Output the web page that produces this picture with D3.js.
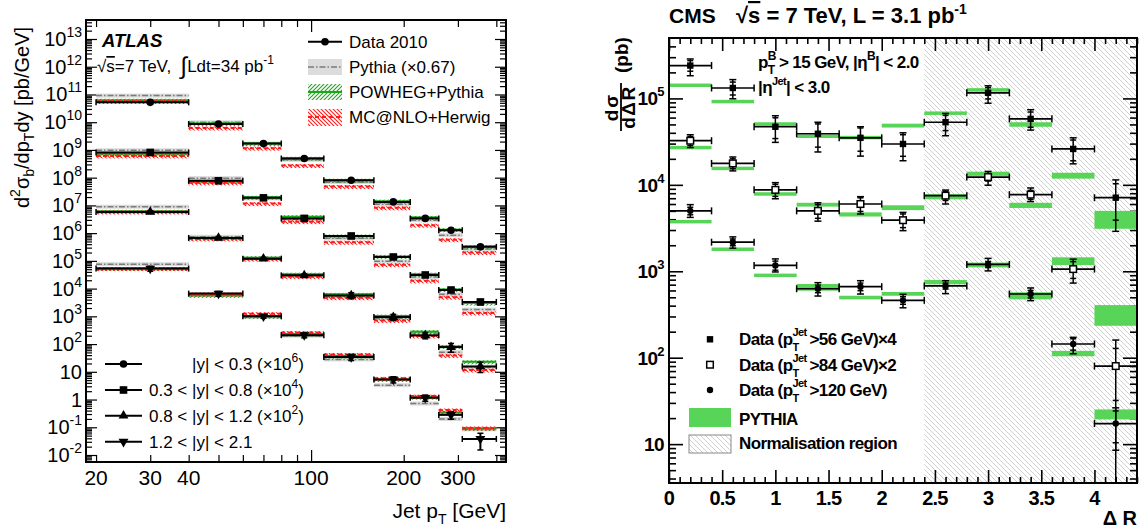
<!DOCTYPE html>
<html><head><meta charset="utf-8">
<script src="https://cdn.jsdelivr.net/npm/d3@7"></script>
<style>body{margin:0;background:#fff} svg{display:block} text{white-space:pre}</style>
</head><body>
<svg id="c" width="1141" height="531"></svg>
<script>
// ---------------- LEFT PANEL DATA (ATLAS b-jet cross section) ----------------
const ptEdges = [20, 40, 60, 80, 110, 160, 210, 260, 310, 400];
const ptMean  = [30, 50, 70, 95, 135, 185, 235, 285, 355];
const leftYTicks = [1e-2,1e-1,1,10,1e2,1e3,1e4,1e5,1e6,1e7,1e8,1e9,1e10,1e11,1e12,1e13];
const leftXLabels = [20, 30, 40, 100, 200, 300];

const dataY03 = [5.2e10, 8.6e9, 1.7e9, 4.9e8, 8.1e7, 1.34e7, 3.4e6, 1.27e6, 3.2e5];
const dataY08 = [8.1e8, 7.7e7, 1.87e7, 3.4e6, 7.9e5, 1.38e5, 3.1e4, 8.9e3, 3.3e3];
const dataY12 = [5.8e6, 6.7e5, 1.2e5, 3.0e4, 5.7e3, 940, 206, 78, 15.7];
const dataY21 = [5.3e4, 6.6e3, 1.0e3, 210, 34, 5.3, 1.16, 0.28, 0.038];

const errY03 = [0.12, 0.1, 0.1, 0.1, 0.12, 0.12, 0.12, 0.15, 0.18];
const errY08 = [0.12, 0.1, 0.1, 0.1, 0.12, 0.12, 0.15, 0.18, 0.2];
const errY12 = [0.12, 0.12, 0.12, 0.12, 0.25, 0.25, 0.25, 0.35, 0.4];
const errY21 = [0.2, 0.2, 0.15, 0.2, 0.25, 0.25, 0.25, 0.3, 0.6];

const pythiaY03 = [9.1e10, 9.9e9, 1.7e9, 4.4e8, 6.9e7, 1.11e7, 2.9e6, 8.4e5, 2.7e5];
const powhegY03 = [6.2e10, 9.0e9, 1.7e9, 5.0e8, 8.1e7, 1.42e7, 3.7e6, 1.33e6, 3.3e5];
const mcnloY03  = [5.6e10, 6.2e9, 1.16e9, 2.74e8, 4.8e7, 8.2e6, 1.94e6, 5.8e5, 2.0e5];

const pythiaY08 = [9.7e8, 9.6e7, 1.78e7, 3.2e6, 6.5e5, 9.7e4, 2.6e4, 6.2e3, 1.75e3];
const powhegY08 = [7.3e8, 7.3e7, 1.96e7, 3.9e6, 7.9e5, 1.45e5, 3.3e4, 9.3e3, 3.0e3];
const mcnloY08  = [6.1e8, 6.5e7, 1.16e7, 2.6e6, 4.7e5, 7.3e4, 1.9e4, 4.9e3, 1.32e3];

const pythiaY12 = [9.0e6, 7.4e5, 1.2e5, 2.9e4, 5.2e3, 850, 230, 51, 14.9];
const powhegY12 = [6.1e6, 6.7e5, 1.3e5, 3.3e4, 6.2e3, 1020, 280, 82, 23];
const mcnloY12  = [5.8e6, 6.2e5, 1.16e5, 2.7e4, 4.7e3, 710, 196, 39, 11.6];

const pythiaY21 = [7.6e4, 6.1e3, 950, 200, 28, 3.3, 0.72, 0.2, 0.085];
const powhegY21 = [5.3e4, 5.7e3, 1.0e3, 230, 37, 5.3, 1.22, 0.34, 0.09];
const mcnloY21  = [5.3e4, 6.4e3, 1.25e3, 260, 42, 5.8, 1.33, 0.42, 0.095];

// ---------------- RIGHT PANEL DATA (CMS BB angular correlation) ----------------
const drCenters = [0.2, 0.6, 1.0, 1.4, 1.8, 2.2, 2.6, 3.0, 3.4, 3.8, 4.2];
const drHalfWidth = 0.2;
const normRegion = [2.4, 4.4];
const rightXTicks = [0, 0.5, 1, 1.5, 2, 2.5, 3, 3.5, 4];
const rightYTicks = [10, 1e2, 1e3, 1e4, 1e5];

const pt56 = [2.4e5, 1.32e5, 4.7e4, 3.9e4, 3.5e4, 2.97e4, 5.3e4, 1.16e5, 5.8e4, 2.6e4, 7.1e3];
const pt56Hi = [2.86e5, 1.65e5, 6.3e4, 5.3e4, 4.7e4, 4.0e4, 6.7e4, 1.4e5, 7.4e4, 3.5e4, 1.14e4];
const pt56Lo = [1.83e5, 9.9e4, 3.1e4, 2.4e4, 2.15e4, 1.9e4, 3.7e4, 8.8e4, 4.3e4, 1.75e4, 2.9e3];
const pt56Stat = [0.14, 0.17, 0.27, 0.3, 0.3, 0.28, 0.2, 0.15, 0.2, 0.27, 0.45];
const py56Lo = [1.38e5, 8.9e4, 4.7e4, 3.5e4, 3.4e4, 4.6e4, 6.5e4, 1.2e5, 4.7e4, 1.18e4, 3.1e3];
const py56Hi = [1.46e5, 9.5e4, 5.3e4, 3.8e4, 3.65e4, 5.1e4, 7.0e4, 1.31e5, 5.3e4, 1.38e4, 5.0e3];

const pt84 = [3.24e4, 1.77e4, 8.75e3, 5.0e3, 6.0e3, 3.9e3, 7.5e3, 1.23e4, 7.7e3, 1.06e3, 80];
const pt84Hi = [3.8e4, 2.1e4, 1.06e4, 6.2e3, 7.3e3, 4.8e3, 8.7e3, 1.43e4, 9.2e3, 1.38e3, 160];
const pt84Lo = [2.7e4, 1.45e4, 6.9e3, 3.8e3, 4.6e3, 2.95e3, 6.0e3, 9.9e3, 6.4e3, 730, 1];
const pt84Stat = [0.12, 0.13, 0.16, 0.18, 0.18, 0.18, 0.12, 0.1, 0.12, 0.22, 0.6];
const py84Lo = [2.6e4, 1.5e4, 7.5e3, 5.6e3, 4.3e3, 5.1e3, 6.8e3, 1.27e4, 5.4e3, 1.18e3, 234];
const py84Hi = [2.8e4, 1.6e4, 8.2e3, 6.2e3, 4.8e3, 5.8e3, 7.8e3, 1.42e4, 6.2e3, 1.45e3, 406];

const pt120 = [5.0e3, 2.17e3, 1.17e3, 628, 663, 461, 676, 1.2e3, 546, 144, 17.3];
const pt120Hi = [5.9e3, 2.5e3, 1.39e3, 738, 778, 541, 778, 1.41e3, 641, 172, 26.3];
const pt120Lo = [4.2e3, 1.85e3, 982, 517, 545, 378, 551, 1.01e3, 457, 111, 8.5];
const pt120Stat = [0.1, 0.09, 0.12, 0.1, 0.1, 0.1, 0.08, 0.08, 0.1, 0.15, 0.4];
const py120Lo = [3.65e3, 1.72e3, 870, 596, 473, 521, 707, 1.11e3, 473, 104, 19.3];
const py120Hi = [3.85e3, 1.88e3, 925, 713, 521, 576, 793, 1.26e3, 571, 120, 25.2];

// ---------------- DRAWING ----------------
const svg = d3.select('#c');
const defs = svg.append('defs');
const GREEN = '#58d458';

function hatch(id, color, up, s, sw) {
  const p = defs.append('pattern').attr('id', id).attr('patternUnits', 'userSpaceOnUse')
    .attr('width', s).attr('height', s);
  const d = up
    ? `M0,${s} L${s},0 M${-s/2},${s/2} L${s/2},${-s/2} M${s/2},${s*1.5} L${s*1.5},${s/2}`
    : `M0,0 L${s},${s} M${-s/2},${s/2} L${s/2},${s*1.5} M${s/2},${-s/2} L${s*1.5},${s/2}`;
  p.append('path').attr('d', d).attr('stroke', color).attr('stroke-width', sw).attr('fill', 'none');
}
hatch('hGreen', '#1fa51f', true, 4, 1.1);
hatch('hRed', '#ff2020', false, 4, 1.1);
hatch('hGrey', '#c4c4c4', false, 5, 0.8);

function rich(g, x, y, parts, st) {
  let cx = x, last = x;
  parts.forEach(p => {
    if (typeof p === 'string') p = {t: p};
    const sx = p.back ? last : cx;
    const t = g.append('text').attr('x', sx).attr('y', y + (p.dy || 0))
      .attr('font-family', st.ff).attr('font-size', p.fs || st.fs)
      .attr('font-weight', st.fw || 'normal').attr('font-style', st.fst || 'normal')
      .attr('letter-spacing', st.ls || 0).attr('fill', '#000').text(p.t);
    if (p.ol) t.style('text-decoration', 'overline');
    const w = t.node().getComputedTextLength();
    if (!p.back) last = sx;
    cx = Math.max(cx, sx + w) + (p.dx || 0);
  });
  return cx;
}
function richAligned(parent, x, y, parts, st, anchor) {
  const g = parent.append('g');
  const w = rich(g, 0, y, parts, st);
  const off = anchor === 'end' ? x - w : anchor === 'middle' ? x - w / 2 : x;
  g.attr('transform', `translate(${off},0)`);
  return g;
}
function powParts(v, fsE, dyE) {
  const e = Math.round(Math.log10(v));
  if (e === 0) return ['1'];
  if (e === 1) return ['10'];
  return ['10', {t: String(e), fs: fsE, dy: dyE}];
}

// =============== LEFT PANEL ===============
const L = {x0: 86, x1: 506, y0: 20, y1: 462};
const xL = d3.scaleLog().domain([18.55, 430]).range([L.x0, L.x1]);
const yL = d3.scaleLog().domain([Math.pow(10, -2.252), Math.pow(10, 13.685)]).range([L.y1, L.y0]);
const gL = svg.append('g');
const fL = 'Liberation Sans, Arial, Helvetica, sans-serif';

const yMinorL = [];
leftYTicks.forEach(d => { for (let k = 2; k <= 9; k++) if (d * k < yL.domain()[1]) yMinorL.push(d * k); });
[Math.pow(10,-3)].forEach(d => { for (let k = 6; k <= 9; k++) yMinorL.push(d * k); });
function addAxis(g, axis, tr) {
  const a = g.append('g').attr('transform', tr).call(axis);
  a.select('.domain').remove();
  a.selectAll('line').attr('stroke', '#000').attr('stroke-width', 1.2);
}
addAxis(gL, d3.axisLeft(yL).tickValues(leftYTicks).tickSize(-11).tickFormat(''), `translate(${L.x0},0)`);
addAxis(gL, d3.axisLeft(yL).tickValues(yMinorL).tickSize(-6).tickFormat(''), `translate(${L.x0},0)`);
addAxis(gL, d3.axisRight(yL).tickValues(leftYTicks).tickSize(-11).tickFormat(''), `translate(${L.x1},0)`);
addAxis(gL, d3.axisRight(yL).tickValues(yMinorL).tickSize(-6).tickFormat(''), `translate(${L.x1},0)`);
const xMinorL = [20,30,40,50,60,70,80,90,200,300,400];
addAxis(gL, d3.axisBottom(xL).tickValues([100]).tickSize(-12).tickFormat(''), `translate(0,${L.y1})`);
addAxis(gL, d3.axisBottom(xL).tickValues(xMinorL).tickSize(-7).tickFormat(''), `translate(0,${L.y1})`);
addAxis(gL, d3.axisTop(xL).tickValues([100]).tickSize(-12).tickFormat(''), `translate(0,${L.y0})`);
addAxis(gL, d3.axisTop(xL).tickValues(xMinorL).tickSize(-7).tickFormat(''), `translate(0,${L.y0})`);

const stL = {ff: fL, fs: 20};
leftYTicks.forEach(v => richAligned(gL, 82, yL(v) + 7, powParts(v, 14, -9), stL, 'end'));
leftXLabels.forEach(v => gL.append('text').attr('x', xL(v)).attr('y', 485).attr('text-anchor', 'middle')
  .attr('font-family', fL).attr('font-size', 21).text(v));
richAligned(gL, 506, 518, ['Jet p', {t: 'T', fs: 14, dy: 6}, ' [GeV]'], {ff: fL, fs: 21}, 'end');
const gYT = gL.append('g').attr('transform', 'translate(29,208) rotate(-90)');
rich(gYT, 0, 0, ['d', {t: '2', fs: 14, dy: -9}, 'σ', {t: 'b', fs: 14, dy: 5}, '/dp', {t: 'T', fs: 14, dy: 5}, 'dy [pb/GeV]'], {ff: fL, fs: 20});

const leftSeries = [
  {sym: 'circle', data: dataY03, err: errY03, py: pythiaY03, pw: powhegY03, mc: mcnloY03},
  {sym: 'square', data: dataY08, err: errY08, py: pythiaY08, pw: powhegY08, mc: mcnloY08},
  {sym: 'tri', data: dataY12, err: errY12, py: pythiaY12, pw: powhegY12, mc: mcnloY12},
  {sym: 'itri', data: dataY21, err: errY21, py: pythiaY21, pw: powhegY21, mc: mcnloY21}
];
const gMC = gL.append('g');
leftSeries.forEach(s => {
  s.py.forEach((v, i) => {
    const xa = xL(ptEdges[i]), xb = xL(ptEdges[i + 1]), y = yL(v);
    gMC.append('rect').attr('x', xa).attr('y', y - 2).attr('width', xb - xa).attr('height', 4).attr('fill', '#dadada');
    gMC.append('line').attr('x1', xa).attr('x2', xb).attr('y1', y).attr('y2', y)
      .attr('stroke', '#7a7a7a').attr('stroke-width', 1.5).attr('stroke-dasharray', '6,2,1.5,2');
  });
  s.pw.forEach((v, i) => {
    const xa = xL(ptEdges[i]), xb = xL(ptEdges[i + 1]), y = yL(v);
    gMC.append('rect').attr('x', xa).attr('y', y - 1.5).attr('width', xb - xa).attr('height', 4).attr('fill', 'url(#hGreen)');
    gMC.append('line').attr('x1', xa).attr('x2', xb).attr('y1', y).attr('y2', y)
      .attr('stroke', '#17a817').attr('stroke-width', 2);
  });
  s.mc.forEach((v, i) => {
    const xa = xL(ptEdges[i]), xb = xL(ptEdges[i + 1]), y = yL(v);
    gMC.append('rect').attr('x', xa).attr('y', y - 1.5).attr('width', xb - xa).attr('height', 4).attr('fill', 'url(#hRed)');
    gMC.append('line').attr('x1', xa).attr('x2', xb).attr('y1', y).attr('y2', y)
      .attr('stroke', '#ff1a1a').attr('stroke-width', 2).attr('stroke-dasharray', '4,3');
  });
});
function leftMarker(g, sym, x, y, k) {
  k = k || 1;
  if (sym === 'circle') g.append('circle').attr('cx', x).attr('cy', y).attr('r', 3.8 * k).attr('fill', '#000');
  else if (sym === 'square') g.append('rect').attr('x', x - 3.8 * k).attr('y', y - 3.8 * k).attr('width', 7.6 * k).attr('height', 7.6 * k).attr('fill', '#000');
  else g.append('path').attr('d', d3.symbol(d3.symbolTriangle, 42 * k * k)())
      .attr('transform', `translate(${x},${y}) rotate(${sym === 'itri' ? 180 : 0})`).attr('fill', '#000');
}
const gD = gL.append('g');
leftSeries.forEach(s => {
  s.data.forEach((v, i) => {
    const xa = xL(ptEdges[i]), xb = xL(ptEdges[i + 1]), x = xL(ptMean[i]), y = yL(v);
    gD.append('line').attr('x1', xa).attr('x2', xb).attr('y1', y).attr('y2', y).attr('stroke', '#000').attr('stroke-width', 2);
    [xa, xb].forEach(xx => gD.append('line').attr('x1', xx).attr('x2', xx).attr('y1', y - 3).attr('y2', y + 3).attr('stroke', '#000').attr('stroke-width', 1.5));
    const yh = yL(v * (1 + s.err[i])), yl = yL(v * (1 - s.err[i]));
    gD.append('line').attr('x1', x).attr('x2', x).attr('y1', yh).attr('y2', yl).attr('stroke', '#000').attr('stroke-width', 2);
    [yh, yl].forEach(yy => gD.append('line').attr('x1', x - 3).attr('x2', x + 3).attr('y1', yy).attr('y2', yy).attr('stroke', '#000').attr('stroke-width', 1.5));
    leftMarker(gD, s.sym, x, y);
  });
});
gL.append('rect').attr('x', L.x0).attr('y', L.y0).attr('width', L.x1 - L.x0).attr('height', L.y1 - L.y0)
  .attr('fill', 'none').attr('stroke', '#000').attr('stroke-width', 2);

gL.append('text').attr('x', 102).attr('y', 47).attr('font-family', fL).attr('font-size', 18.5)
  .attr('font-weight', 'bold').attr('font-style', 'italic').text('ATLAS');
rich(gL, 97, 72, ['√', {t: 's', ol: true}, '=7 TeV,  ', {t: '∫', fs: 24, dy: 2}, 'Ldt=34 pb', {t: '-1', fs: 12, dy: -8}], {ff: fL, fs: 17});

const lgX0 = 308, lgX1 = 342, lgT = 349;
const stLg = {ff: fL, fs: 17};
gL.append('line').attr('x1', lgX0).attr('x2', lgX1).attr('y1', 41.7).attr('y2', 41.7).attr('stroke', '#000').attr('stroke-width', 2);
gL.append('circle').attr('cx', 325).attr('cy', 41.7).attr('r', 3.8).attr('fill', '#000');
rich(gL, lgT, 48, ['Data 2010'], stLg);
gL.append('rect').attr('x', lgX0).attr('y', 59).attr('width', lgX1 - lgX0).attr('height', 16).attr('fill', '#dcdcdc');
gL.append('line').attr('x1', lgX0).attr('x2', lgX1).attr('y1', 67).attr('y2', 67).attr('stroke', '#7a7a7a').attr('stroke-width', 1.6).attr('stroke-dasharray', '6,2,1.5,2');
rich(gL, lgT, 73, ['Pythia (×0.67)'], stLg);
gL.append('rect').attr('x', lgX0).attr('y', 84).attr('width', lgX1 - lgX0).attr('height', 16).attr('fill', 'url(#hGreen)');
gL.append('line').attr('x1', lgX0).attr('x2', lgX1).attr('y1', 92).attr('y2', 92).attr('stroke', '#17a817').attr('stroke-width', 2);
rich(gL, lgT, 98, ['POWHEG+Pythia'], stLg);
gL.append('rect').attr('x', lgX0).attr('y', 109).attr('width', lgX1 - lgX0).attr('height', 17).attr('fill', 'url(#hRed)');
gL.append('line').attr('x1', lgX0).attr('x2', lgX1).attr('y1', 117).attr('y2', 117).attr('stroke', '#ff1a1a').attr('stroke-width', 2).attr('stroke-dasharray', '4,3');
rich(gL, lgT, 123, ['MC@NLO+Herwig'], stLg);

const rapLegend = [
  {sym: 'circle', y: 364, x: 192, parts: ['|y| < 0.3 (×10', {t: '6', fs: 12, dy: -8}, ')']},
  {sym: 'square', y: 390, x: 149, parts: ['0.3 < |y| < 0.8 (×10', {t: '4', fs: 12, dy: -8}, ')']},
  {sym: 'tri', y: 415.7, x: 149, parts: ['0.8 < |y| < 1.2 (×10', {t: '2', fs: 12, dy: -8}, ')']},
  {sym: 'itri', y: 441.7, x: 149, parts: ['1.2 < |y| < 2.1']}
];
rapLegend.forEach(r => {
  gL.append('line').attr('x1', 105).attr('x2', 142).attr('y1', r.y).attr('y2', r.y).attr('stroke', '#000').attr('stroke-width', 2);
  leftMarker(gL, r.sym, 123.5, r.y);
  rich(gL, r.x, r.y + 6, r.parts, stLg);
});

// =============== RIGHT PANEL ===============
const R = {x0: 669, x1: 1137, y0: 38, y1: 483};
const xR = d3.scaleLinear().domain([0, 4.4]).range([R.x0, R.x1]);
const yR = d3.scaleLog().domain([3.55, 5.0e5]).range([R.y1, R.y0]);
const gR = svg.append('g');
const fB = 'Liberation Sans, Arial, Helvetica, sans-serif';
const stB = {ff: fB, fs: 19, fw: 'bold', ls: -0.6};

defs.append('clipPath').attr('id', 'clipR').append('rect')
  .attr('x', R.x0).attr('y', R.y0).attr('width', R.x1 - R.x0).attr('height', R.y1 - R.y0);

gR.append('rect').attr('x', xR(normRegion[0])).attr('y', R.y0).attr('width', xR(normRegion[1]) - xR(normRegion[0]))
  .attr('height', R.y1 - R.y0).attr('fill', 'url(#hGrey)');

const xMinorR = d3.range(0, 4.41, 0.1).filter(v => Math.abs(v * 2 - Math.round(v * 2)) > 0.01);
addAxis(gR, d3.axisBottom(xR).tickValues(rightXTicks).tickSize(-13).tickFormat(''), `translate(0,${R.y1})`);
addAxis(gR, d3.axisBottom(xR).tickValues(xMinorR).tickSize(-6).tickFormat(''), `translate(0,${R.y1})`);
addAxis(gR, d3.axisTop(xR).tickValues(rightXTicks).tickSize(-13).tickFormat(''), `translate(0,${R.y0})`);
addAxis(gR, d3.axisTop(xR).tickValues(xMinorR).tickSize(-6).tickFormat(''), `translate(0,${R.y0})`);
const yMinorR = [];
[1, 10, 1e2, 1e3, 1e4, 1e5].forEach(d => { for (let k = 2; k <= 9; k++) { const v = d * k; if (v > 3.55 && v < 5e5) yMinorR.push(v); } });
addAxis(gR, d3.axisLeft(yR).tickValues(rightYTicks).tickSize(-14).tickFormat(''), `translate(${R.x0},0)`);
addAxis(gR, d3.axisLeft(yR).tickValues(yMinorR).tickSize(-7).tickFormat(''), `translate(${R.x0},0)`);
addAxis(gR, d3.axisRight(yR).tickValues(rightYTicks).tickSize(-14).tickFormat(''), `translate(${R.x1},0)`);
addAxis(gR, d3.axisRight(yR).tickValues(yMinorR).tickSize(-7).tickFormat(''), `translate(${R.x1},0)`);
gR.selectAll('line').attr('stroke-width', 1.6);

rightYTicks.forEach(v => richAligned(gR, 664, yR(v) + 7, powParts(v, 13, -9), stB, 'end'));
rightXTicks.forEach(v => gR.append('text').attr('x', xR(v)).attr('y', 505).attr('text-anchor', 'middle')
  .attr('font-family', fB).attr('font-size', 20).attr('font-weight', 'bold').attr('letter-spacing', -0.8).text(v));
gR.append('text').attr('x', 1137).attr('y', 525).attr('text-anchor', 'end').attr('font-family', fB)
  .attr('font-size', 20).attr('font-weight', 'bold').text('Δ R');

// y title (fraction)
const gYR = gR.append('g').attr('transform', 'translate(621,133) rotate(-90)');
gYR.append('text').attr('x', 26).attr('y', -3).attr('text-anchor', 'middle').attr('font-family', fB)
  .attr('font-size', 19).attr('font-weight', 'bold').attr('letter-spacing', 2).text('dσ');
gYR.append('line').attr('x1', 2).attr('x2', 50).attr('y1', 0).attr('y2', 0).attr('stroke', '#000').attr('stroke-width', 1.8);
gYR.append('text').attr('x', 26).attr('y', 14).attr('text-anchor', 'middle').attr('font-family', fB)
  .attr('font-size', 19).attr('font-weight', 'bold').attr('letter-spacing', 1.5).text('dΔR');
gYR.append('text').attr('x', 60).attr('y', 7).attr('font-family', fB)
  .attr('font-size', 19).attr('font-weight', 'bold').text('(pb)');

const gPy = gR.append('g');
[[py56Lo, py56Hi], [py84Lo, py84Hi], [py120Lo, py120Hi]].forEach(([lo, hi]) => {
  lo.forEach((v, i) => {
    const xa = xR(drCenters[i] - drHalfWidth), xb = xR(drCenters[i] + drHalfWidth);
    let y1 = yR(hi[i]), y2 = yR(v);
    if (y2 - y1 < 3.5) { const m = (y1 + y2) / 2; y1 = m - 1.75; y2 = m + 1.75; }
    gPy.append('rect').attr('x', xa).attr('y', y1).attr('width', xb - xa).attr('height', y2 - y1).attr('fill', GREEN);
  });
});

const gRD = gR.append('g').attr('clip-path', 'url(#clipR)');
function rMarker(g, sym, x, y) {
  if (sym === 'fsq') g.append('rect').attr('x', x - 3.2).attr('y', y - 3.2).attr('width', 6.4).attr('height', 6.4).attr('fill', '#000');
  else if (sym === 'osq') g.append('rect').attr('x', x - 3.3).attr('y', y - 3.3).attr('width', 6.6).attr('height', 6.6).attr('fill', '#fff').attr('stroke', '#000').attr('stroke-width', 1.5);
  else g.append('circle').attr('cx', x).attr('cy', y).attr('r', 3.2).attr('fill', '#000');
}
function drawR(vals, hi, lo, stat, sym) {
  vals.forEach((v, i) => {
    const c = drCenters[i], x = xR(c), y = yR(v);
    const xa = xR(c - drHalfWidth), xb = xR(c + drHalfWidth);
    const ln = (x1, y1, x2, y2, w) => gRD.append('line').attr('x1', x1).attr('y1', y1).attr('x2', x2).attr('y2', y2).attr('stroke', '#000').attr('stroke-width', w || 1.5);
    ln(xa, y, xb, y, 1.7);
    ln(xa, y - 3.5, xa, y + 3.5);
    ln(xb, y - 3.5, xb, y + 3.5);
    const yh = yR(hi[i]), yl = yR(lo[i]);
    ln(x, yh, x, yl, 1.5);
    ln(x - 3.5, yh, x + 3.5, yh);
    ln(x - 3.5, yl, x + 3.5, yl);
    ln(x - 3, yR(v * (1 + stat[i])), x + 3, yR(v * (1 + stat[i])));
    ln(x - 3, yR(v * (1 - stat[i])), x + 3, yR(v * (1 - stat[i])));
    rMarker(gRD, sym, x, y);
  });
}
drawR(pt56, pt56Hi, pt56Lo, pt56Stat, 'fsq');
drawR(pt84, pt84Hi, pt84Lo, pt84Stat, 'osq');
drawR(pt120, pt120Hi, pt120Lo, pt120Stat, 'fci');

gR.append('rect').attr('x', R.x0).attr('y', R.y0).attr('width', R.x1 - R.x0).attr('height', R.y1 - R.y0)
  .attr('fill', 'none').attr('stroke', '#000').attr('stroke-width', 2);

gR.append('text').attr('x', 669).attr('y', 23).attr('font-family', fB).attr('font-size', 21).attr('font-weight', 'bold').text('CMS');
rich(gR, 736, 23, ['√', {t: 's', ol: true}, ' = 7 TeV, L = 3.1 pb', {t: '-1', fs: 14, dy: -9}], {ff: fB, fs: 22, fw: 'bold', ls: 0});
const stT = {ff: fB, fs: 17, fw: 'bold', ls: -0.6};
rich(gR, 758, 68, ['p', {t: 'T', fs: 12, dy: 6}, {t: 'B', fs: 12, dy: -8, back: true, dx: 3}, '> 15 GeV, |η', {t: 'B', fs: 12, dy: -8}, '| < 2.0'], stT);
rich(gR, 758, 93, ['|η', {t: 'Jet', fs: 11, dy: -8}, '| < 3.0'], stT);

const rLeg = [
  {sym: 'fsq', y: 339.3, parts: ['Data (p', {t: 'T', fs: 11, dy: 6}, {t: 'Jet', fs: 11, dy: -9, back: true, dx: 3}, '>56 GeV)×4']},
  {sym: 'osq', y: 364.7, parts: ['Data (p', {t: 'T', fs: 11, dy: 6}, {t: 'Jet', fs: 11, dy: -9, back: true, dx: 3}, '>84 GeV)×2']},
  {sym: 'fci', y: 390, parts: ['Data (p', {t: 'T', fs: 11, dy: 6}, {t: 'Jet', fs: 11, dy: -9, back: true, dx: 3}, '>120 GeV)']}
];
rLeg.forEach(r => {
  rMarker(gR, r.sym, 710, r.y);
  rich(gR, 739, r.y + 6, r.parts, stT);
});
gR.append('rect').attr('x', 689).attr('y', 408).attr('width', 42).attr('height', 19).attr('fill', GREEN);
rich(gR, 739, 425, ['PYTHIA'], stT);
gR.append('rect').attr('x', 689).attr('y', 435).attr('width', 42).attr('height', 18).attr('fill', 'url(#hGrey)')
  .attr('stroke', '#888').attr('stroke-width', 1);
rich(gR, 739, 449, ['Normalisation region'], stT);
</script>
</body></html>
